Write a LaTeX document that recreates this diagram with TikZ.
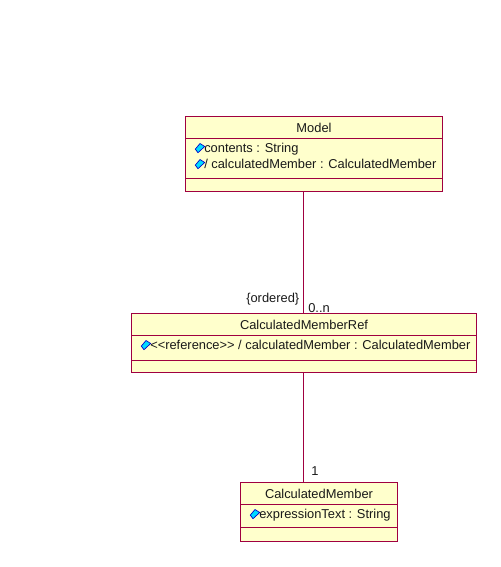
\documentclass[tikz,border=0pt]{standalone}
\usepackage{fontspec}
\setmainfont{Liberation Sans}
\usepackage{xcolor}
\usetikzlibrary{calc,positioning}
\definecolor{umlBorder}{RGB}{160,0,64}
\definecolor{umlFill}{RGB}{255,255,204}
\definecolor{umlCyan}{RGB}{0,220,255}
\definecolor{umlBlue}{RGB}{0,0,200}
\newcommand{\umlFont}{\fontsize{9.65}{10}\selectfont}
\tikzset{
  compartment/.style={draw=umlBorder,fill=umlFill,line width=.75pt,inner sep=0pt,outer sep=0pt,font=\umlFont,text=black!90},
  attrtext/.style={inner sep=0pt,anchor=base west,font=\umlFont,text=black!90},
  attricon/.style={draw=umlBlue,fill=umlCyan,line width=.5pt},
  linkline/.style={draw=umlBorder,line width=.75pt},
  endlabel/.style={inner sep=0pt,anchor=base west,font=\umlFont,text=black!90}
}
% icon at a base point
\newcommand{\AttrIcon}[1]{%
  \draw[attricon] ($(#1)+(-8.7,-2.9)$) -- ++(4.7,-5.6) -- ++(4.7,3) -- ++(-6.7,6.2) -- cycle;}
\begin{document}
\begin{tikzpicture}[x=.75pt,y=-.75pt]
  \useasboundingbox (0,0) rectangle (500,567);
  % Model
  \node[compartment,minimum width=257*.75pt,minimum height=22*.75pt,anchor=north west] (modelName) at (185.5,116.5) {Model};
  \node[compartment,minimum width=257*.75pt,minimum height=40*.75pt,below=0pt of modelName] (modelAttrs) {};
  \node[compartment,minimum width=257*.75pt,minimum height=13*.75pt,below=0pt of modelAttrs] (modelOps) {};
  % CalculatedMemberRef
  \node[compartment,minimum width=345*.75pt,minimum height=22*.75pt,anchor=north west] (refName) at (131.5,313.5) {CalculatedMemberRef};
  \node[compartment,minimum width=345*.75pt,minimum height=25*.75pt,below=0pt of refName] (refAttrs) {};
  \node[compartment,minimum width=345*.75pt,minimum height=12*.75pt,below=0pt of refAttrs] (refOps) {};
  % CalculatedMember
  \node[compartment,minimum width=157*.75pt,minimum height=22*.75pt,anchor=north west] (memberName) at (240.5,482.5) {CalculatedMember};
  \node[compartment,minimum width=157*.75pt,minimum height=23*.75pt,below=0pt of memberName] (memberAttrs) {};
  \node[compartment,minimum width=157*.75pt,minimum height=14*.75pt,below=0pt of memberAttrs] (memberOps) {};
  % attributes
  \coordinate (a1) at (204,152);
  \coordinate (a2) at (204,168);
  \coordinate (a3) at (150,349);
  \coordinate (a4) at (259,518);
  \node[attrtext] (contents) at (a1) {contents : String};
  \node[attrtext] (calcMember) at (a2) {/ calculatedMember : CalculatedMember};
  \node[attrtext] (refText) at (a3) {<{}<reference>{}> / calculatedMember : CalculatedMember};
  \node[attrtext] (exprText) at (a4) {expressionText : String};
  \AttrIcon{a1}
  \AttrIcon{a2}
  \AttrIcon{a3}
  \AttrIcon{a4}
  % links
  \coordinate (linkX) at (303.5,0);
  \draw[linkline] (modelOps.south -| linkX) -- (refName.north -| linkX);
  \draw[linkline] (refOps.south -| linkX) -- (memberName.north -| linkX);
  \node[endlabel] (ordered) at (246,302) {\{ordered\}};
  \node[endlabel] (many) at (308,312) {0..n};
  \node[endlabel] (one) at (311,475) {1};
\end{tikzpicture}
\end{document}
